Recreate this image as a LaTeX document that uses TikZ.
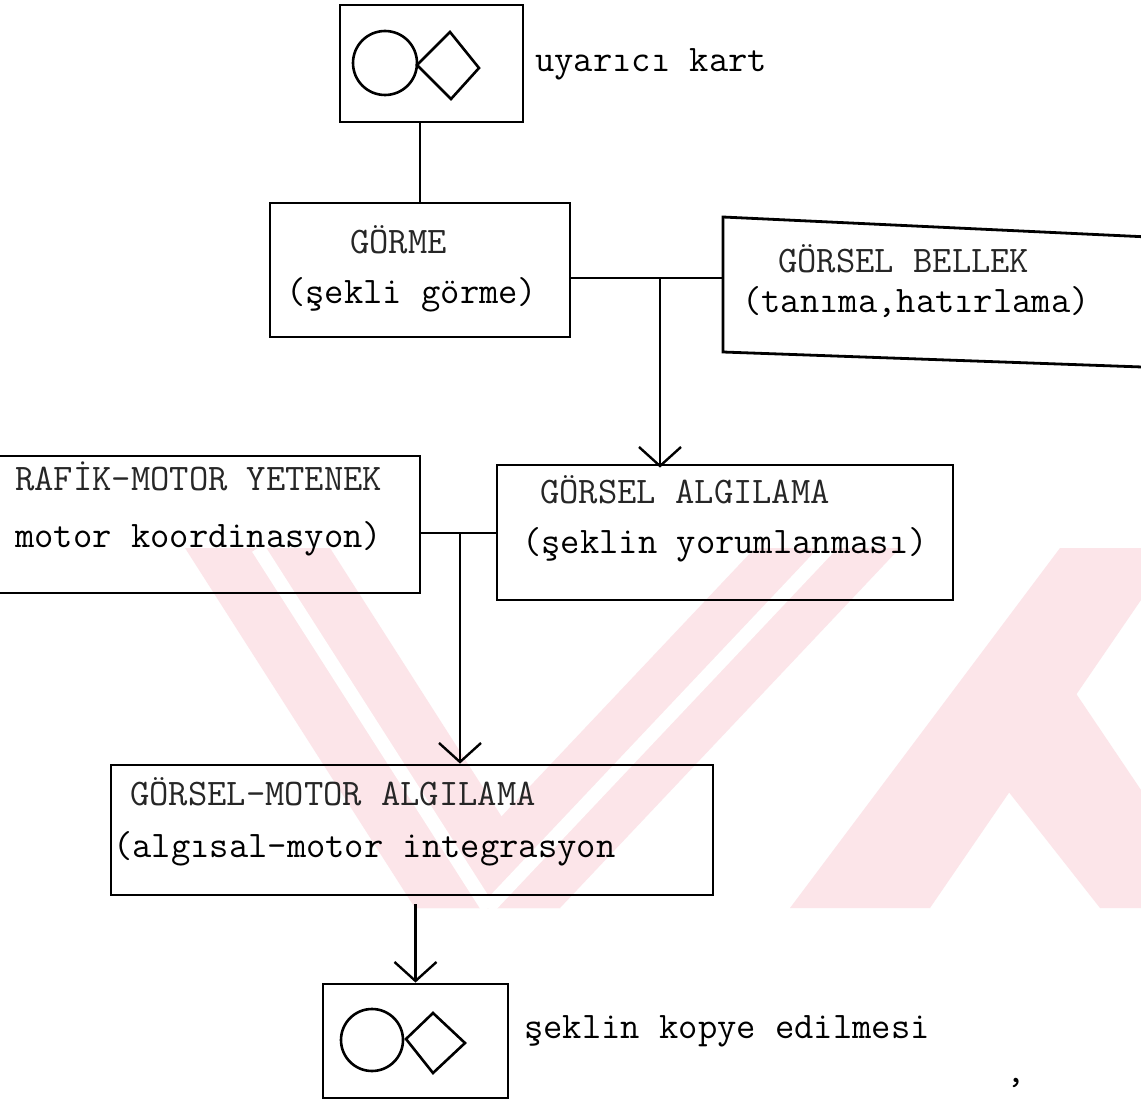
\documentclass[tikz,border=0pt]{standalone}
\usepackage{fontspec}
\usetikzlibrary{arrows.meta,calc}
\definecolor{wm}{RGB}{252,229,233}
\newcommand\twbold{\fontsize{37.5}{40}\selectfont\ttfamily\addfontfeature{FakeBold=2.5}}
\newcommand\twcaps{\fontsize{37.5}{40}\selectfont\ttfamily\addfontfeature{FakeBold=1}}
\begin{document}
\begin{tikzpicture}[x=1pt,y=-1pt,
  box/.style={draw, line width=2.8pt, inner sep=0pt},
  lowtxt/.style={font=\twbold, anchor=base west, inner sep=0pt},
  captxt/.style={font=\twcaps, anchor=base west, inner sep=0pt, text=black!85},
  conn/.style={line width=2.4pt},
  arr/.style={line width=2.4pt, -{Straight Barb[length=19pt,width=42pt,line width=2.4pt]}},
  shp/.style={line width=2.6pt}]
\useasboundingbox (0,0) rectangle (1141,1105);
\fill[white] (0,0) rectangle (1141,1105);
% watermark
\begin{scope}
  \clip (0,548) rectangle (1141,908);
  \fill[wm] (185,548) -- (330,548) -- (560,908) -- (415,908) -- cycle;
  \fill[wm] (415,908) -- (560,908) -- (900,548) -- (755,548) -- cycle;
  \fill[wm] (790,908) -- (930,908) -- (1141,600) -- (1141,548) -- (1060,548) -- cycle;
  \fill[wm] (960,730) -- (1040,640) -- (1141,790) -- (1141,908) -- (1100,908) -- cycle;
  \draw[white,line width=14pt] (258,548) -- (488,908);
  \draw[white,line width=14pt] (488,908) -- (828,548);
\end{scope}
% boxes
\node[box, minimum width=183pt, minimum height=117pt] (card1) at (431.5,63.5) {};
\node[box, minimum width=300pt, minimum height=134pt] (gorme) at (420,270) {};
\draw[box] (723,217) coordinate (bellekTL) -- (1170,238) -- (1170,368) -- (723,352) -- cycle;
\coordinate (bellekL) at (723,278);
\node[box, minimum width=460pt, minimum height=137pt] (grafik) at (190,524.5) {};
\node[box, minimum width=456pt, minimum height=135pt] (algi) at (725,532.5) {};
\node[box, minimum width=602pt, minimum height=130pt] (gm) at (412,830) {};
\node[box, minimum width=185pt, minimum height=114pt] (kopya) at (415.5,1041) {};
% card shapes
\draw[shp] (385,63) circle[radius=32];
\draw[shp] (417,65) -- (450,32) -- (479,68) -- (451,99) -- cycle;
\draw[shp] (372,1040) circle[radius=31];
\draw[shp] (406,1039) -- (433,1013) -- (465,1043) -- (433,1073) -- cycle;
% texts
\node[lowtxt] (t1) at (535,72) {uyarıcı kart};
\node[captxt] (t2) at (350,253) {GÖRME};
\node[lowtxt] (t3) at (286,303) {(şekli görme)};
\node[captxt] (t4) at (778,272) {GÖRSEL BELLEK};
\node[lowtxt] (t5) at (742,312) {(tanıma,hatırlama)};
\node[captxt] (t6) at (15,490) {RAFİK-MOTOR YETENEK};
\node[lowtxt] (t7) at (15,547) {motor koordinasyon)};
\node[captxt] (t8) at (540,503) {GÖRSEL ALGILAMA};
\node[lowtxt] (t9) at (522,553) {(şeklin yorumlanması)};
\node[captxt] (t10) at (130,805) {GÖRSEL-MOTOR ALGILAMA};
\node[lowtxt] (t11) at (113,857) {(algısal-motor integrasyon};
\node[lowtxt] (t12) at (524,1038) {şeklin kopye edilmesi};
\node[lowtxt] (t13) at (1006,1082) {,};
% connectors
\coordinate (j1) at (660,278);
\coordinate (j2) at (460,533);
\draw[conn] (card1.south -| gorme.north) -- (gorme.north);
\draw[conn] (gorme.east |- bellekL) -- (bellekL);
\draw[arr] (j1) -- ([yshift=-4pt]algi.north -| j1);
\draw[conn] (grafik.east |- j2) -- (algi.west |- j2);
\draw[arr] (j2) -- (gm.north -| j2);
\draw[arr] ([yshift=-8pt]gm.south -| kopya.north) -- (kopya.north);
\end{tikzpicture}
\end{document}
